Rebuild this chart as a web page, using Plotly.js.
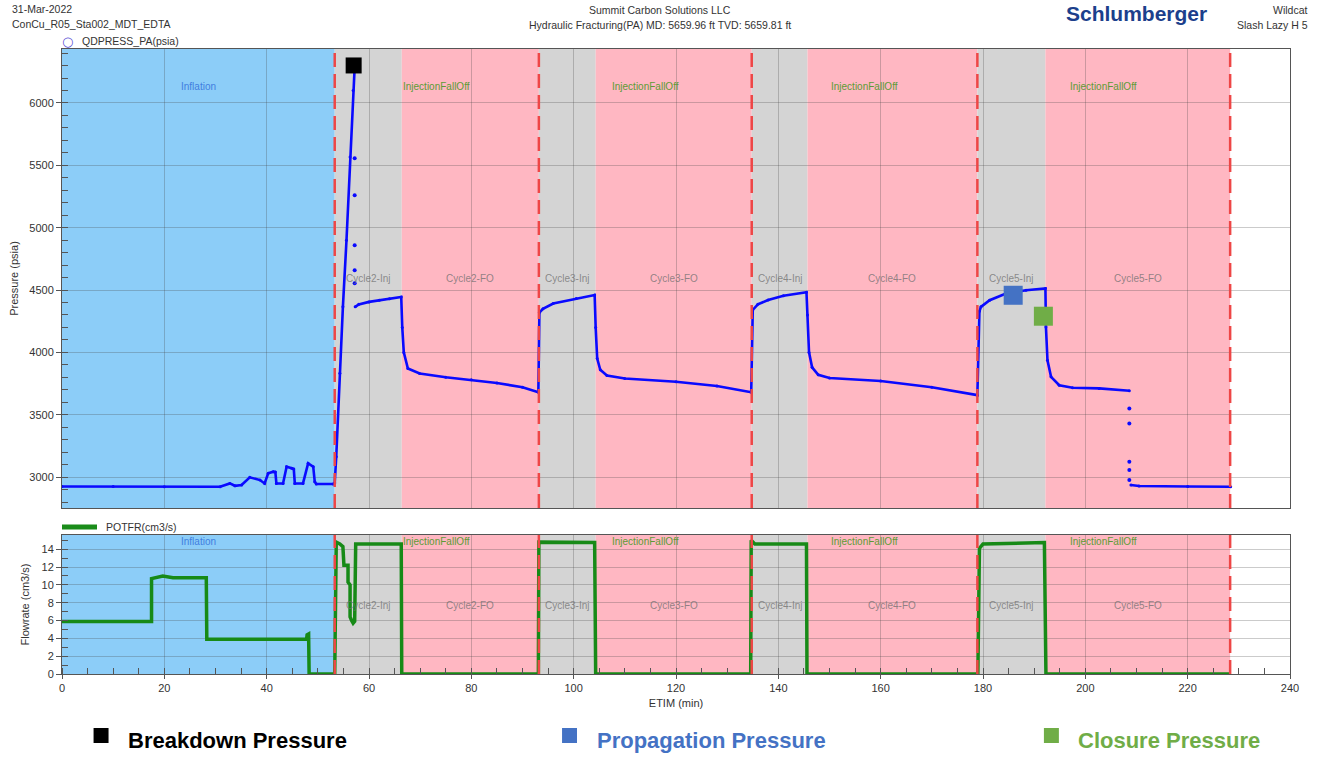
<!DOCTYPE html>
<html>
<head>
<meta charset="utf-8">
<script src="https://cdn.plot.ly/plotly-3.0.1.min.js"></script>
<style>html,body{margin:0;padding:0;background:#fff;}#chart{width:1325px;height:757px;}</style>
</head>
<body>
<div id="chart"></div>
<script>
// ---------- DATA ----------
const pressTime = [0,10,20,30.9,32.8,33.8,35.1,36.7,38.7,39.6,40.3,41.3,41.7,41.9,43.2,43.9,44.9,45.3,45.5,47.1,48.1,49.1,49.4,49.7,53.0,53.3,53.6,54.3,54.9,55.6,56.3,56.9,57.2,null,
  57.3,58,60,62,64,66.3,66.5,66.8,67.6,69.9,75,80,85,90,93.1,
  93.3,94,96,100.5,104.1,104.3,104.6,105.2,106.5,110,120,128,134.7,
  135.0,136,138,141,145.5,145.7,146.0,146.6,147.8,150,160,170,178.9,
  179.3,179.6,181.3,184.5,188.4,192.2,192.3,192.6,193.3,194.9,197.5,202.7,208.6,null,
  208.9,210.5,220,228.4];
const pressVal = [2925,2925,2923,2922,2949,2930,2936,2998,2976,2949,3030,3043,3040,2949,2949,3083,3070,3065,2949,2949,3110,3083,2962,2945,2945,2952,3163,3833,4365,4899,5567,6101,6288,null,
  4365,4385,4405,4418,4430,4445,4200,4000,3871,3831,3800,3780,3755,3720,3680,
  4320,4350,4392,4432,4460,4200,3950,3860,3815,3790,3765,3730,3680,
  4340,4385,4420,4455,4482,4300,4000,3880,3820,3795,3770,3720,3657,
  4330,4365,4418,4472,4498,4512,4204,3937,3804,3737,3716,3711,3692,null,
  2936,2928,2925,2922];
const sparseTime = [57.2,57.2,57.2,57.2,57.2,208.6,208.6,208.6,208.6,208.6];
const sparseVal  = [5556,5260,4859,4659,4555,3550,3430,3123,3056,2976];

const flowTime = [0,17.5,17.5,18.2,19.1,19.7,21.7,28.2,28.3,47.8,47.9,48.2,48.3,53.3,53.6,54.3,54.9,55.1,55.9,55.9,56.3,56.3,56.6,56.9,57.2,57.4,66.3,66.4,93.1,93.2,104.1,104.3,134.6,134.7,135.4,145.5,145.6,179.0,179.3,180,192.0,192.3,228.3];
const flowVal  = [5.9,5.9,10.7,10.8,10.9,11.0,10.8,10.8,3.9,3.9,4.4,4.5,0,0,14.8,14.6,14.3,12.2,12.2,10.3,10.0,6.4,6.0,5.7,5.9,14.6,14.6,0,0,14.8,14.75,0,0,15.0,14.6,14.6,0,0,14.1,14.6,14.75,0,0];

const keyNames = ['Breakdown Pressure','Propagation Pressure','Closure Pressure'];
const keyTime  = [57.0,185.9,191.8];
const keyVal   = [6301,4458,4290];
const keyColors = ['#000000','#4472C4','#70AD47'];

const bandStart = [0,53.3,66.4,93.2,104.3,134.8,145.7,178.9,192.2];
const bandEnd   = [53.3,66.4,93.2,104.3,134.8,145.7,178.9,192.2,228.3];
const bandKind  = ['inflation','inj','fo','inj','fo','inj','fo','inj','fo'];
const bandLabels = ['','Cycle2-Inj','Cycle2-FO','Cycle3-Inj','Cycle3-FO','Cycle4-Inj','Cycle4-FO','Cycle5-Inj','Cycle5-FO'];
const stageStart = [0,53.3,93.2,134.8,178.9];
const stageEnd   = [53.3,93.2,134.8,178.9,228.3];
const stageLabels = ['Inflation','InjectionFallOff','InjectionFallOff','InjectionFallOff','InjectionFallOff'];
const dashLines = [53.3,93.2,134.8,178.9,228.3];

// ---------- STYLE ----------
const bandColor = {inflation:'rgb(140,205,248)', inj:'rgb(212,212,212)', fo:'rgb(255,183,194)'};
const F = 'Arial, "Liberation Sans", sans-serif';
const shapes = [];
const annotations = [];

['y','y2'].forEach(ax => {
  bandStart.forEach((s,i) => {
    shapes.push({type:'rect', xref:'x', yref:ax+' domain', x0:s, x1:bandEnd[i], y0:0, y1:1,
      fillcolor:bandColor[bandKind[i]], line:{width:0}, layer:'below'});
  });
  dashLines.forEach(d => {
    shapes.push({type:'line', xref:'x', yref:ax+' domain', x0:d, x1:d, y0:0, y1:1,
      line:{color:'rgb(238,70,70)', width:2.5, dash:'14px,7px'}, layer:'above'});
  });
});

const labelY = {y:{stage:0.934, cyc:0.501}, y2:{stage:1.008, cyc:0.496}};
['y','y2'].forEach(ax => {
  stageStart.forEach((s,i) => {
    annotations.push({xref:'x', yref:ax+' domain', x:(s+stageEnd[i])/2, y:labelY[ax].stage, text:stageLabels[i],
      showarrow:false, font:{family:F, size:10, color: i===0 ? '#3f7fe0' : '#5d9b35'}});
  });
  bandStart.forEach((s,i) => {
    if (!bandLabels[i]) return;
    annotations.push({xref:'x', yref:ax+' domain', x:(s+bandEnd[i])/2, y:labelY[ax].cyc, text:bandLabels[i],
      showarrow:false, font:{family:F, size:10, color:'rgba(110,110,110,0.75)'}});
  });
});

// header texts (paper coords)
const hdr = [
  {x:-0.0423, y:1.064, text:'31-Mar-2022', xanchor:'left'},
  {x:-0.0423, y:1.040, text:'ConCu_R05_Sta002_MDT_EDTA', xanchor:'left'},
  {x:0.487, y:1.0624, text:'Summit Carbon Solutions LLC', xanchor:'center'},
  {x:0.487, y:1.0384, text:'Hydraulic Fracturing(PA) MD: 5659.96 ft TVD: 5659.81 ft', xanchor:'center'},
  {x:1.0163, y:1.0624, text:'Wildcat', xanchor:'right'},
  {x:1.0163, y:1.0384, text:'Slash Lazy H 5', xanchor:'right'},
  {x:0.0147, y:1.0128, text:'QDPRESS_PA(psia)', xanchor:'left'},
  {x:0.0342, y:0.2352, text:'POTFR(cm3/s)', xanchor:'left'}
];
hdr.forEach(h => annotations.push({xref:'paper', yref:'paper', x:h.x, y:h.y, text:h.text, xanchor:h.xanchor,
  yanchor:'middle', showarrow:false, font:{family:F, size:10.5, color:'#333'}}));
annotations.push({xref:'paper', yref:'paper', x:0.0041, y:1.0128, text:'○', showarrow:false, xanchor:'center', yanchor:'middle',
  font:{family:'"DejaVu Sans", sans-serif', size:13, color:'#5a4fd6'}});
annotations.push({xref:'paper', yref:'paper', x:0.875, y:1.0784, text:'<b>Schlumberger</b>', showarrow:false, xanchor:'center', yanchor:'top',
  font:{family:'"Liberation Sans Narrow", Arial, sans-serif', size:21, color:'#1c3f8c'}});
shapes.push({type:'rect', xref:'paper', yref:'paper', x0:0, x1:0.0285, y0:0.2312, y1:0.2392, fillcolor:'#1a8c1a', line:{width:0}});

// bottom key
const keyTextX = [0.0521, 0.4341, 0.8258];
const keySqX = [0.0257, 0.4072, 0.7996];
keyNames.forEach((n,i) => {
  annotations.push({xref:'paper', yref:'paper', x:keyTextX[i], y:-0.1056, text:'<b>'+n+'</b>', xanchor:'left', yanchor:'middle',
    showarrow:false, font:{family:F, size:22, color:keyColors[i]}});
  shapes.push({type:'rect', xref:'paper', yref:'paper', x0:keySqX[i], x1:keySqX[i]+0.0122, y0:-0.1104, y1:-0.0864,
    fillcolor:keyColors[i], line:{width:0}});
});

const traces = [
  {x:pressTime, y:pressVal, type:'scatter', mode:'lines+markers', line:{color:'#0a0aff', width:2.6},
   marker:{color:'#0a0aff', size:3, opacity:1}, connectgaps:false, xaxis:'x', yaxis:'y', hoverinfo:'skip'},
  {x:sparseTime, y:sparseVal, type:'scatter', mode:'markers', marker:{color:'#0a0aff', size:4, opacity:1}, xaxis:'x', yaxis:'y'},
  {x:flowTime, y:flowVal, type:'scatter', mode:'lines', line:{color:'#178a17', width:3.5}, xaxis:'x2', yaxis:'y2'},
  {x:keyTime, y:keyVal, type:'scatter', mode:'markers', text:keyNames, opacity:1,
   marker:{symbol:'square', size:[16,19,19], color:keyColors, opacity:1, line:{width:0}}, xaxis:'x', yaxis:'y'}
];

const grid = 'rgba(70,70,70,0.28)';
const axCommon = {showline:true, mirror:true, linecolor:'#555', linewidth:1, gridcolor:grid, gridwidth:1,
  zeroline:false, tickfont:{family:F, size:11, color:'#333'}, ticklen:5, tickcolor:'#555'};

const layout = {
  width:1325, height:757,
  margin:{l:62, r:35, t:49, b:83},
  paper_bgcolor:'#fff', plot_bgcolor:'#fff',
  showlegend:false,
  xaxis: Object.assign({}, axCommon, {domain:[0,1], range:[0,240], dtick:20, anchor:'y', showticklabels:false, ticks:''}),
  yaxis: Object.assign({}, axCommon, {domain:[0.2656,1], range:[2752,6433], dtick:500, ticks:'outside', anchor:'x',
    minor:{dtick:100, ticks:'inside', ticklen:6, tickcolor:'#555', showgrid:false},
    title:{text:'Pressure (psia)', font:{family:F, size:11, color:'#333'}, standoff:8}}),
  xaxis2: Object.assign({}, axCommon, {domain:[0,1], range:[0,240], dtick:20, anchor:'y2', ticks:'outside', ticklen:4,
    minor:{dtick:5, ticks:'inside', ticklen:6, tickcolor:'#555', showgrid:false},
    title:{text:'ETIM (min)', font:{family:F, size:11, color:'#333'}, standoff:6}}),
  yaxis2: Object.assign({}, axCommon, {domain:[0,0.2224], range:[0,15.6], dtick:2, ticks:'outside', anchor:'x2',
    minor:{dtick:1, ticks:'inside', ticklen:6, tickcolor:'#555', showgrid:false},
    title:{text:'Flowrate (cm3/s)', font:{family:F, size:11, color:'#333'}, standoff:9}}),
  shapes: shapes,
  annotations: annotations
};

Plotly.newPlot('chart', traces, layout, {displayModeBar:false, staticPlot:true});
</script>
</body>
</html>
